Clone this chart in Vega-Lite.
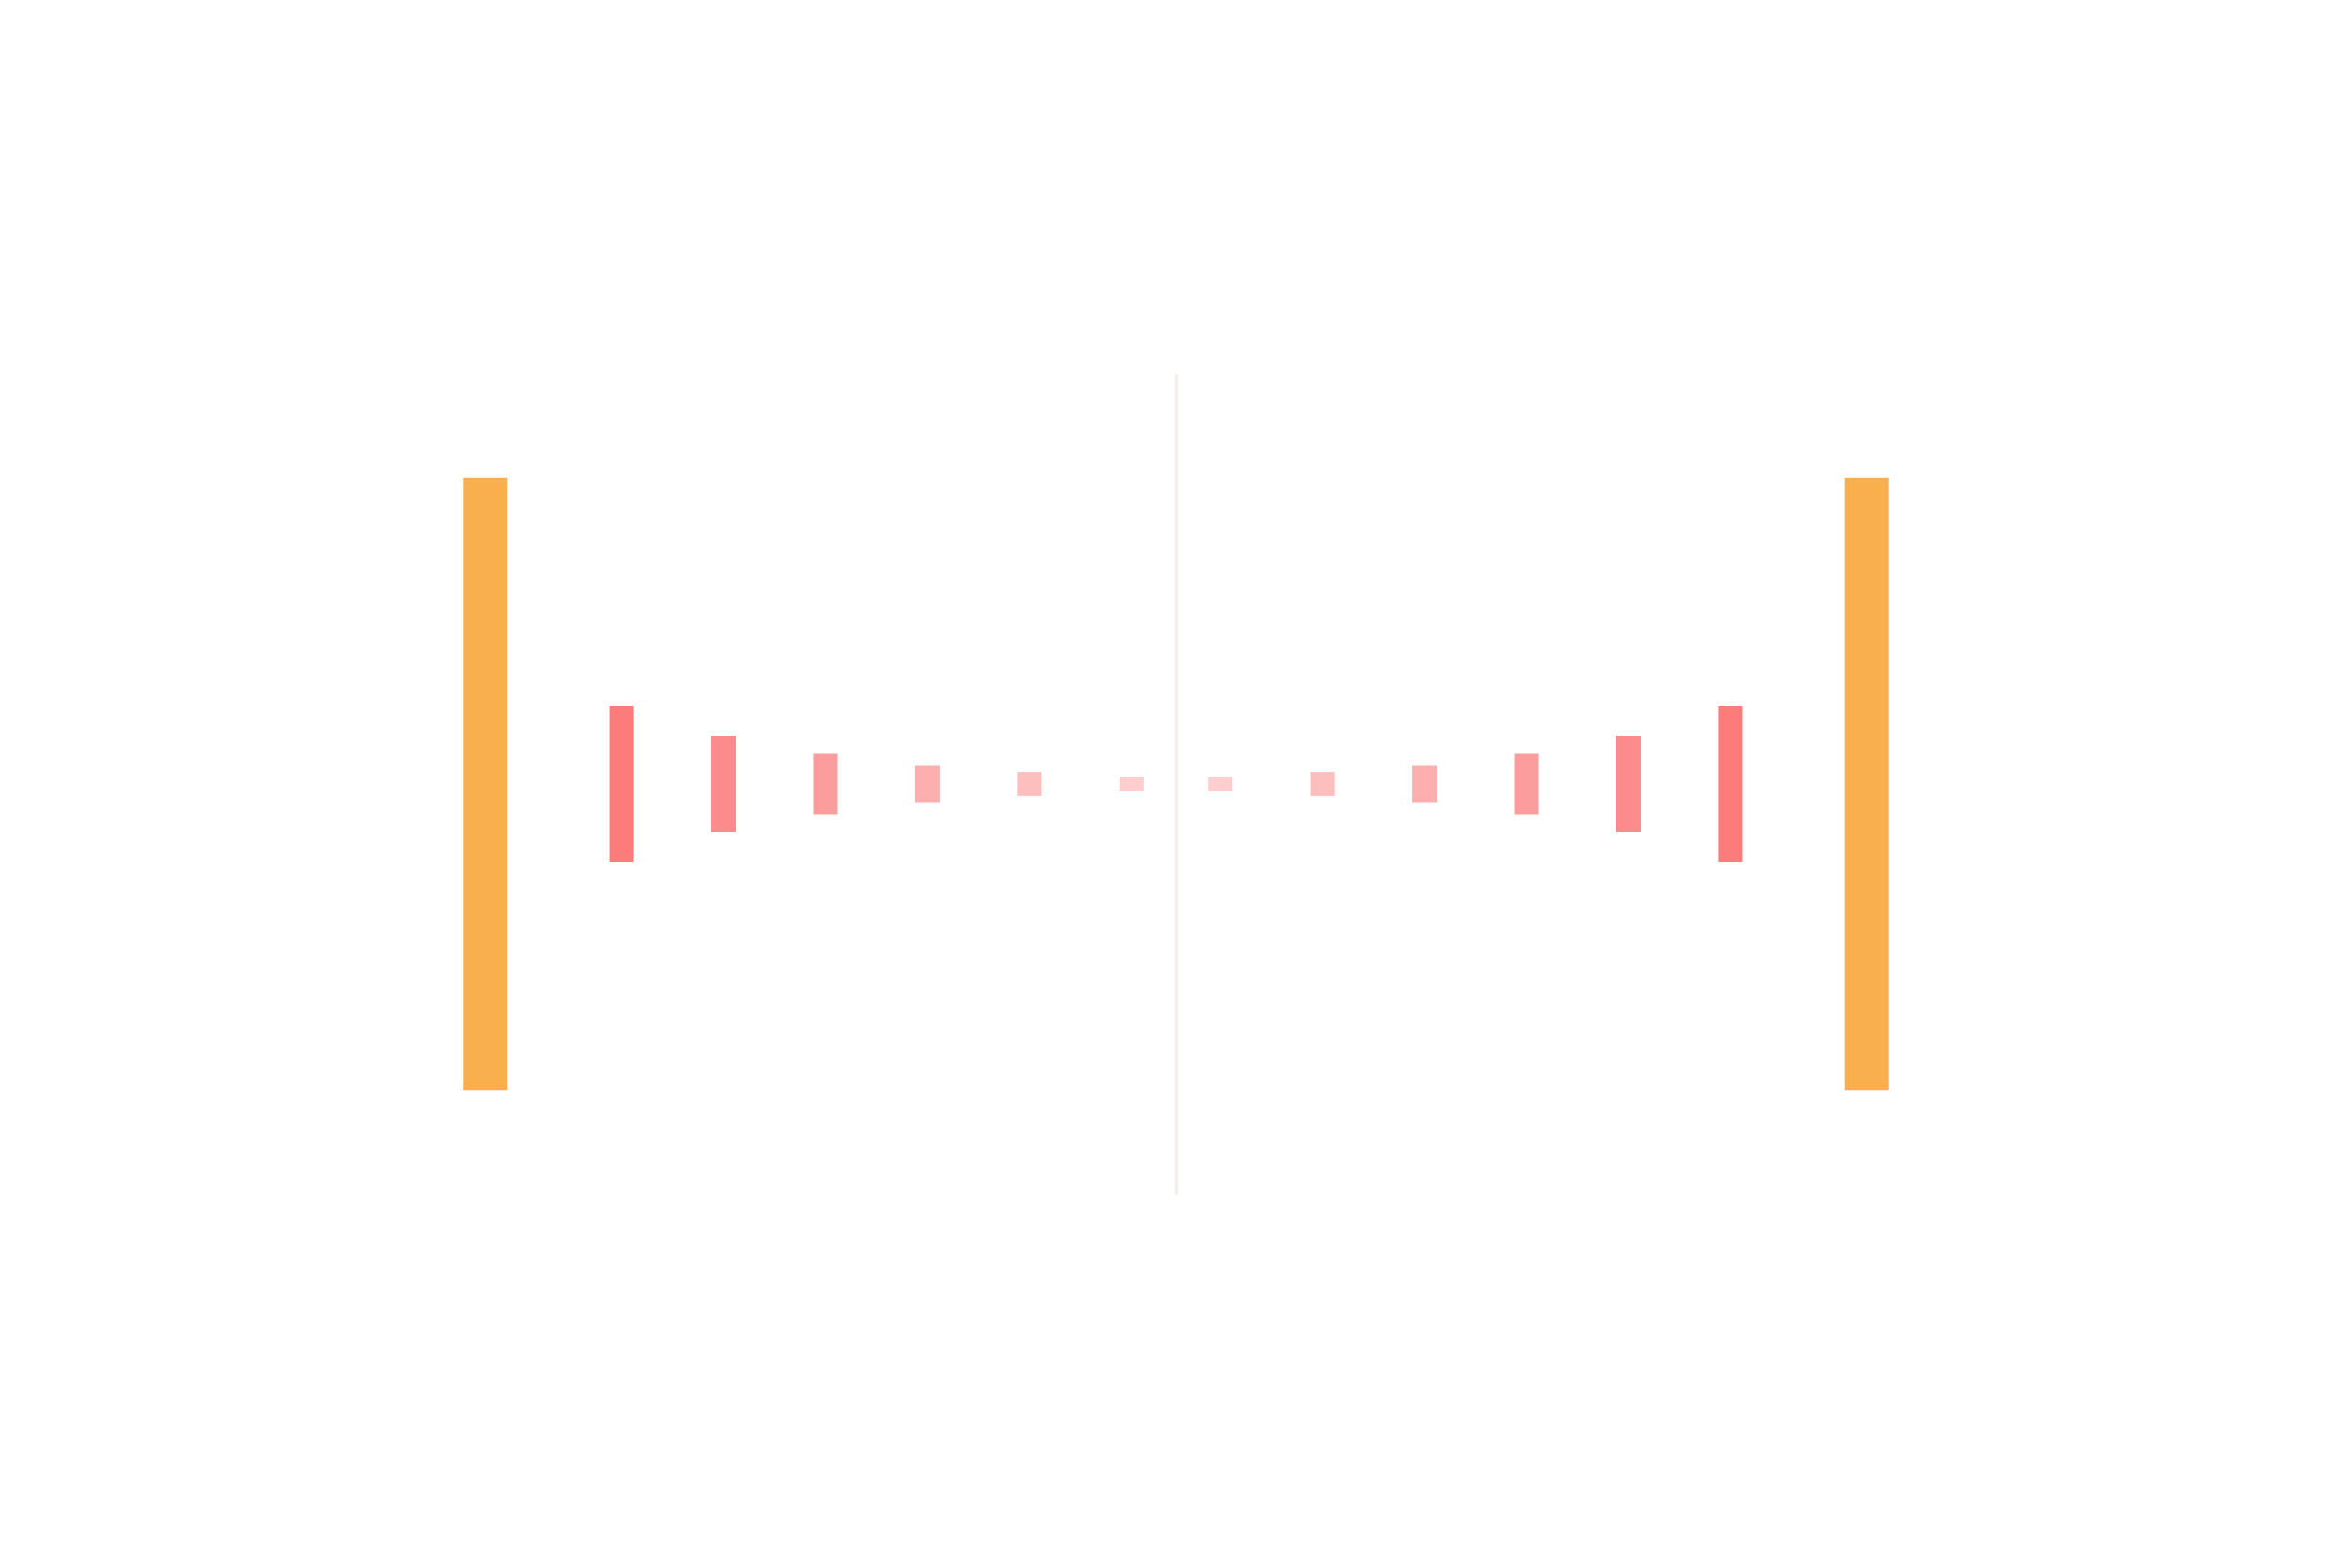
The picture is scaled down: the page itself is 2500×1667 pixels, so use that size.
{
  "$schema": "https://vega.github.io/schema/vega-lite/v6.json",
  "width": 2500,
  "height": 1667,
  "autosize": {"type": "fit", "contains": "padding"},
  "padding": {"top": 399, "bottom": 399, "left": 0, "right": 0},
  "background": "#ffffff",
  "data": {
    "values": [
      {"pos": -67.7, "amp": 100, "kind": "main", "order": 0},
      {"pos": -54.35, "amp": 25.3, "kind": "echo", "order": 1},
      {"pos": -44.35, "amp": 15.7, "kind": "echo", "order": 2},
      {"pos": -34.35, "amp": 9.8, "kind": "echo", "order": 3},
      {"pos": -24.35, "amp": 6.1, "kind": "echo", "order": 4},
      {"pos": -14.35, "amp": 3.8, "kind": "echo", "order": 5},
      {"pos": -4.35, "amp": 2.3, "kind": "echo", "order": 6},
      {"pos": 4.35, "amp": 2.3, "kind": "echo", "order": 6},
      {"pos": 14.35, "amp": 3.8, "kind": "echo", "order": 5},
      {"pos": 24.35, "amp": 6.1, "kind": "echo", "order": 4},
      {"pos": 34.35, "amp": 9.8, "kind": "echo", "order": 3},
      {"pos": 44.35, "amp": 15.7, "kind": "echo", "order": 2},
      {"pos": 54.35, "amp": 25.3, "kind": "echo", "order": 1},
      {"pos": 67.7, "amp": 100, "kind": "main", "order": 0}
    ]
  },
  "mark": {"type": "bar"},
  "encoding": {
    "x": {
      "field": "pos",
      "type": "quantitative",
      "scale": {"domain": [-114.8, 114.8], "nice": false, "zero": false},
      "axis": {
        "values": [0],
        "grid": true,
        "gridColor": "#f1f0ec",
        "gridWidth": 3.5,
        "gridCap": "round",
        "labels": false,
        "ticks": false,
        "domain": false,
        "title": null
      }
    },
    "y": {
      "field": "amp",
      "type": "quantitative",
      "stack": "center",
      "scale": {"domain": [-16.67, 116.67], "nice": false, "zero": false},
      "axis": null
    },
    "size": {
      "field": "kind",
      "type": "ordinal",
      "scale": {"domain": ["main", "echo"], "range": [47, 26]},
      "legend": null
    },
    "color": {
      "field": "order",
      "type": "ordinal",
      "scale": {
        "domain": [0, 1, 2, 3, 4, 5, 6],
        "range": ["#f9af4d", "#fc7b7b", "#fc8c8c", "#fc9d9d", "#fdaeae", "#fdbebe", "#fecece"]
      },
      "legend": null
    }
  },
  "config": {
    "view": {"stroke": null}
  }
}
